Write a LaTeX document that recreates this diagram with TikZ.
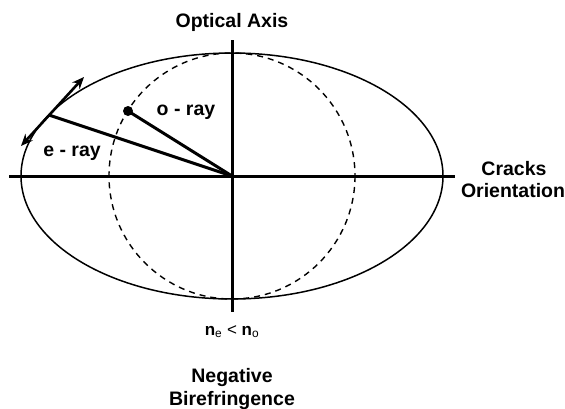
\documentclass[tikz,border=0pt]{standalone}
\usepackage{fontspec}
\setmainfont{Liberation Sans}
\usetikzlibrary{arrows.meta}
\begin{document}
\begin{tikzpicture}[x=1pt,y=-1pt,
  lbl/.style={font=\fontsize{19.5}{22}\selectfont\bfseries, inner sep=0pt, anchor=base},
  axisline/.style={line width=3pt},
  rayline/.style={line width=3pt},
  curve/.style={line width=1.5pt},
  dashcurve/.style={line width=1.4pt, dash pattern=on 6pt off 5pt},
  polarr/.style={line width=2.6pt, {Stealth[length=12pt,width=10pt]}-{Stealth[length=12pt,width=10pt]}}]
\useasboundingbox (0,0) rectangle (565,408);
\coordinate (O) at (232,176);
\coordinate (hl) at (9,176);
\coordinate (hr) at (455,176);
\coordinate (vt) at (232,40);
\coordinate (vb) at (232,312);
\coordinate (E) at (49,115);
\coordinate (A1) at (84,77);
\coordinate (A2) at (21,146);
% ellipse and circle
\draw[curve] (O) ellipse [x radius=211, y radius=123];
\draw[dashcurve] (O) circle [radius=123];
% axes
\draw[axisline] (hl) -- (hr);
\draw[axisline] (vt) -- (vb);
% rays
\node[circle, fill=black, inner sep=0pt, minimum size=10pt] (D) at (128,111) {};
\draw[rayline] (O) -- (D.center);
\draw[rayline] (O) -- (E);
\draw[polarr] (A2) -- (A1);
% labels
\node[lbl] (optax) at (232,27) {Optical Axis};
\node[lbl] (cracks) at (514,175) {Cracks};
\node[lbl] (orient) at (513,197) {Orientation};
\node[lbl] (eray) at (72,156) {e - ray};
\node[lbl] (oray) at (186,115) {o - ray};
\node[lbl, font=\fontsize{17}{20}\selectfont\bfseries] (ineq) at (232,335) {n{\mdseries\textsubscript{e} <} n{\mdseries\textsubscript{o}}};
\node[lbl] (neg) at (232,382) {Negative};
\node[lbl] (bire) at (232,405) {Birefringence};
\end{tikzpicture}
\end{document}
